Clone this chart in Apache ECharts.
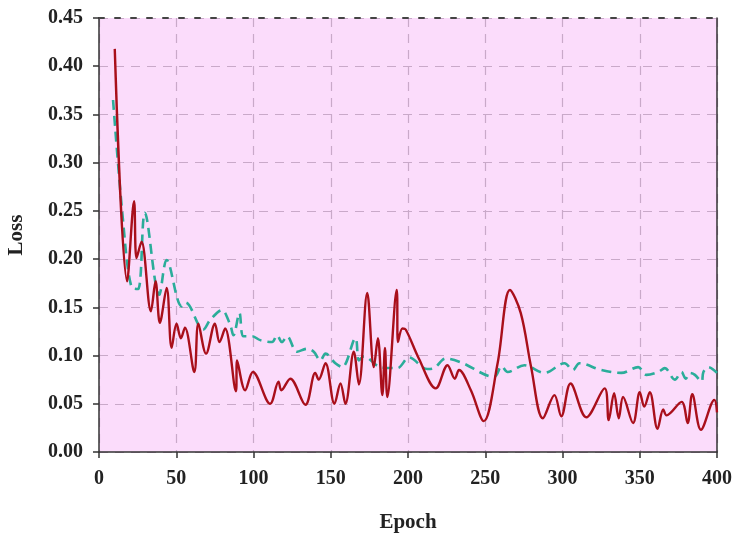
<!DOCTYPE html>
<html>
<head>
<meta charset="utf-8">
<script src="https://cdn.jsdelivr.net/npm/echarts@6/dist/echarts.min.js"></script>
<style>
  html, body { margin: 0; padding: 0; background: #fff; }
  #chart { width: 732px; height: 536px; }
</style>
</head>
<body>
<div id="chart"></div>
<script>
  // red solid curve
  var redEpoch = [10.2, 18.2, 22.7, 24.3, 27.5, 33.6, 36.6, 39.4, 43.8, 47, 50.2, 53, 55.6, 61.7, 64.3, 69.3, 75, 78, 81.6, 88.6, 89.4,
    94.6, 99.6, 110.8, 116.2, 118, 123.8, 133.6, 140, 142.2, 146.6, 152.4, 156.3, 159.5, 164.9, 168.2, 173.6, 177.9, 180.5, 183.4,
    185.1, 186.6, 192.7, 193.5, 196.4, 198.5, 207, 218, 225.6, 230.3, 233, 240.7, 249, 258, 266, 273, 279.7, 287.3, 294.8, 299.2,
    305.2, 315.4, 327.3, 329.9, 333.4, 336.4, 339.2, 345.7, 350, 352.9, 356.5, 361.5, 365.2, 367.3, 377.1, 381, 384, 389.6, 398.3, 400];
  var redLoss = [0.418, 0.177, 0.260, 0.201, 0.218, 0.146, 0.177, 0.134, 0.170, 0.108, 0.133, 0.118, 0.129, 0.083, 0.133, 0.102, 0.133, 0.114, 0.128, 0.063, 0.095,
    0.064, 0.083, 0.050, 0.073, 0.064, 0.076, 0.049, 0.082, 0.075, 0.092, 0.050, 0.071, 0.050, 0.104, 0.070, 0.165, 0.088, 0.118, 0.059,
    0.108, 0.057, 0.168, 0.114, 0.128, 0.127, 0.097, 0.066, 0.090, 0.076, 0.085, 0.064, 0.032, 0.092, 0.168, 0.144, 0.088, 0.035, 0.059, 0.037,
    0.071, 0.036, 0.066, 0.033, 0.061, 0.035, 0.057, 0.030, 0.062, 0.047, 0.062, 0.024, 0.044, 0.038, 0.052, 0.030, 0.060, 0.023, 0.054, 0.041];

  // teal dashed curve
  var tealEpoch = [9.1, 15.6, 21, 25.3, 29.7, 39, 43.8, 53.5, 56, 67.5, 72, 79.5, 84.9, 87, 90.9, 93.5, 99, 104.4, 112, 115.2, 118.4,
    121.7, 128.2, 134.7, 139, 143.3, 146.6, 153, 157.4, 166, 168.2, 171.4, 182.3, 193.1, 200.6, 212.6, 216.9, 224.5, 234.2, 255.8,
    260.6, 264.5, 275.3, 288.3, 301.3, 306.7, 311, 325, 338, 349, 354.3, 362, 366.2, 372.7, 377, 379.7, 382.5, 385.7, 390, 391.2, 394.4, 400];
  var tealLoss = [0.365, 0.239, 0.171, 0.169, 0.248, 0.163, 0.199, 0.151, 0.155, 0.127, 0.137, 0.147, 0.132, 0.121, 0.144, 0.120, 0.120, 0.116, 0.114, 0.121, 0.114,
    0.120, 0.104, 0.107, 0.104, 0.095, 0.102, 0.092, 0.088, 0.118, 0.095, 0.099, 0.088, 0.087, 0.098, 0.086, 0.087, 0.097, 0.093, 0.078,
    0.089, 0.083, 0.090, 0.082, 0.092, 0.085, 0.092, 0.085, 0.082, 0.088, 0.080, 0.083, 0.087, 0.075, 0.083, 0.076, 0.082, 0.080, 0.073, 0.083, 0.088, 0.082];

  function pairs(xs, ys) {
    var out = [];
    for (var i = 0; i < xs.length; i++) out.push([xs[i], ys[i]]);
    return out;
  }

  var chart = echarts.init(document.getElementById('chart'));
  var labelFont = { fontFamily: 'Liberation Serif', fontWeight: 'bold', fontSize: 20, color: '#222' };
  var gridLine = { show: true, lineStyle: { color: '#c9a9c9', type: [9, 7], width: 1.2 } };

  var option = {
    backgroundColor: '#fff',
    animation: false,
    grid: {
      left: 99, right: 15, top: 18, bottom: 84, outerBoundsMode: 'none',
      show: true, backgroundColor: '#fbdcfb', borderWidth: 0
    },
    xAxis: [{
      type: 'value', min: 0, max: 400, interval: 50,
      name: 'Epoch', nameLocation: 'middle', nameGap: 60,
      nameTextStyle: { fontFamily: 'Liberation Serif', fontWeight: 'bold', fontSize: 21, color: '#222' },
      axisLine: { lineStyle: { color: '#333', width: 1.5 } },
      axisTick: { show: true, length: 6, lineStyle: { color: '#333', width: 1.5 } },
      axisLabel: Object.assign({ margin: 17 }, labelFont),
      splitLine: gridLine
    }, {
      type: 'value', min: 0, max: 400, position: 'top',
      axisLine: { show: true, onZero: false, lineStyle: { color: '#444', width: 2, type: [5, 11] } },
      axisTick: { show: false }, axisLabel: { show: false }, splitLine: { show: false }
    }],
    yAxis: [{
      type: 'value', min: 0, max: 0.45, interval: 0.05,
      name: 'Loss', nameLocation: 'middle', nameGap: 72, nameRotate: 90,
      nameTextStyle: { fontFamily: 'Liberation Serif', fontWeight: 'bold', fontSize: 21, color: '#222' },
      axisLine: { show: true, lineStyle: { color: '#333', width: 1.5 } },
      axisTick: { show: true, length: 6, lineStyle: { color: '#333', width: 1.5 } },
      axisLabel: Object.assign({ margin: 16, formatter: function (v) { return v.toFixed(2); } }, labelFont),
      splitLine: gridLine
    }, {
      type: 'value', min: 0, max: 0.45, position: 'right',
      axisLine: { show: true, onZero: false, lineStyle: { color: '#333', width: 1.5 } },
      axisTick: { show: false }, axisLabel: { show: false }, splitLine: { show: false }
    }],
    series: [{
      type: 'line',
      data: pairs(tealEpoch, tealLoss),
      smooth: 0.35,
      symbol: 'none',
      lineStyle: { color: '#2bad9a', width: 2.6, type: [10, 6] },
      z: 3
    }, {
      type: 'line',
      data: pairs(redEpoch, redLoss),
      smooth: 0.35,
      symbol: 'none',
      lineStyle: { color: '#a90f1b', width: 2.4 },
      z: 4
    }]
  };

  chart.setOption(option, true);
</script>
</body>
</html>
